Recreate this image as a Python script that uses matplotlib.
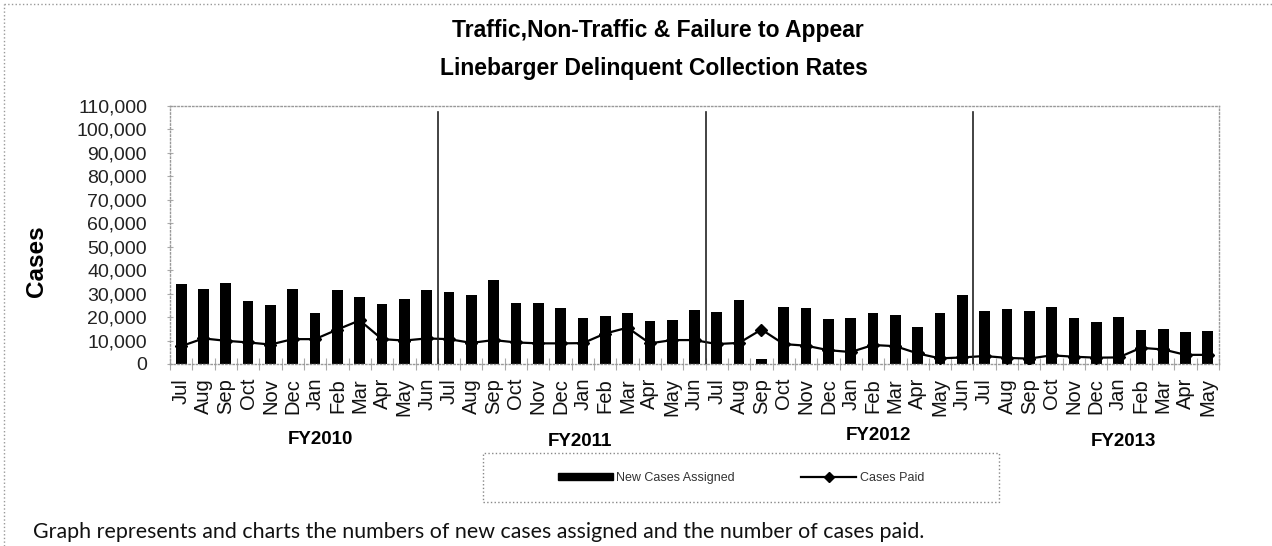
import numpy as np
import matplotlib
matplotlib.use("Agg")
import matplotlib.pyplot as plt
from matplotlib.patches import Patch, Rectangle
from matplotlib.lines import Line2D

plt.rcParams.update({'font.family': ['Liberation Sans', 'DejaVu Sans']})

# data
months = ["Jul", "Aug", "Sep", "Oct", "Nov", "Dec", "Jan", "Feb", "Mar", "Apr", "May", "Jun"] * 3 + \
         ["Jul", "Aug", "Sep", "Oct", "Nov", "Dec", "Jan", "Feb", "Mar", "Apr", "May"]
fiscal_years = ["FY2010", "FY2011", "FY2012", "FY2013"]

new_cases = [34200, 32100, 34700, 26800, 25000, 31800, 21900, 31500, 28700, 25600, 27700, 31400,
             30600, 29500, 35900, 26100, 26100, 23900, 19400, 20500, 21600, 18500, 18900, 23200,
             22300, 27100, 2300, 24300, 23700, 19200, 19500, 21900, 20800, 15800, 21600, 29500,
             22500, 23400, 22600, 24300, 19500, 17800, 20000, 14300, 15100, 13700, 14100]
cases_paid = [7600, 10900, 9900, 9200, 8300, 10600, 10600, 14700, 18600, 10600, 10000, 10900,
              10600, 9000, 10200, 9200, 8800, 8800, 8900, 13000, 15500, 8800, 10200, 10200,
              8500, 9000, 14700, 8500, 7800, 5900, 5100, 8100, 7600, 4500, 2400, 2800,
              3400, 2600, 2300, 3700, 3100, 2700, 2800, 6900, 6200, 3900, 3900]

W, H = 1272, 546
fig = plt.figure(figsize=(W / 100, H / 100), dpi=100)
ax = fig.add_axes([170 / W, 1 - 364 / H, (1219 - 170) / W, (364 - 106) / H])

x = np.arange(len(months))
ax.bar(x, new_cases, width=0.48, color="black", zorder=2)
ax.plot(x, cases_paid, color="black", lw=1.6, marker="D", markersize=6, zorder=3)

# fiscal year separators
for b in [11.5, 23.5, 35.5]:
    ax.plot([b, b], [0, 107500], color="#222222", lw=1.2, zorder=4)

ax.set_xlim(-0.5, len(months) - 0.5)
ax.set_ylim(0, 110000)
ax.set_yticks(np.arange(0, 110001, 10000))
ax.set_yticklabels([f"{v:,}" for v in range(0, 110001, 10000)], fontsize=14, color="#222222")
ax.set_xticks(x)
ax.set_xticklabels(months, rotation=90, fontsize=14.5, color="#111111")
ax.set_xticks(np.arange(-0.5, len(months), 1), minor=True)
ax.tick_params(axis="x", which="major", length=0, pad=10)
ax.tick_params(axis="x", which="minor", length=8, direction="inout", color="#aaaaaa", width=0.8)
ax.tick_params(axis="y", length=5, direction="inout", color="#aaaaaa", width=0.8, pad=14)

for s in ax.spines.values():
    s.set_linestyle(":")
    s.set_color("#999999")
    s.set_linewidth(1)

fig.text(36 / W, 1 - 261 / H, "Cases", rotation=90, ha="center", va="center",
         fontsize=17.5, fontweight="bold")

# title
fig.text(658 / W, 1 - 31 / H, "Traffic,Non-Traffic & Failure to Appear", ha="center", va="center",
         fontsize=16.5, fontweight="bold")
fig.text(654 / W, 1 - 69 / H, "Linebarger Delinquent Collection Rates", ha="center", va="center",
         fontsize=16.5, fontweight="bold")

# fiscal year labels
fy_pos = [(320, 439), (580, 442), (878, 435), (1123, 442)]
for label, (px, py) in zip(fiscal_years, fy_pos):
    fig.text(px / W, 1 - py / H, label, ha="center", va="center", fontsize=13.5, fontweight="bold")

# legend box
fig.patches.append(Rectangle((483 / W, 1 - 502 / H), (999 - 483) / W, (502 - 453) / H,
                             transform=fig.transFigure, fill=False, ls=":", ec="#888888", lw=1))
handles = [Patch(color="black", label="New Cases Assigned"),
           Line2D([], [], color="black", lw=1.6, marker="D", markersize=5, label="Cases Paid")]
fig.legend(handles=handles, loc="center", bbox_to_anchor=(741 / W, 1 - 478 / H), ncol=2,
           frameon=False, fontsize=9, handlelength=4.4, handleheight=0.4, handletextpad=0.3,
           columnspacing=5.3, labelcolor="#333333")

# outer border
fig.add_artist(Line2D([4 / W, 4 / W], [0, 1 - 4 / H], transform=fig.transFigure, ls=":", color="#999999", lw=1))
fig.add_artist(Line2D([4 / W, 1], [1 - 4 / H, 1 - 4 / H], transform=fig.transFigure, ls=":", color="#999999", lw=1))

fig.text(33 / W, 1 - 532 / H,
         "Graph represents and charts the numbers of new cases assigned and the number of cases paid.",
         ha="left", va="center", fontsize=15.4, family=["Lato", "DejaVu Sans"], color="#111111")

fig.savefig("out.png", dpi=100)
